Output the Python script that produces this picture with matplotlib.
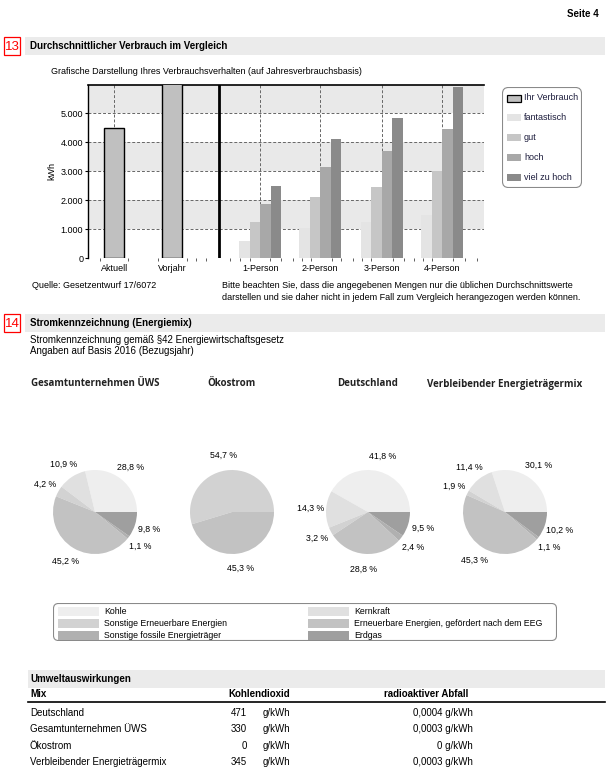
import matplotlib
matplotlib.use("Agg")
import matplotlib.pyplot as plt
from matplotlib.patches import Rectangle, FancyBboxPatch
from matplotlib.lines import Line2D
from matplotlib.ticker import FuncFormatter

plt.rcParams['font.family'] = ['Liberation Sans', 'DejaVu Sans']

# --- data: Verbrauchsvergleich (kWh) ---
own_labels = ["Aktuell", "Vorjahr"]
own_values = [4500, 6100]
groups = ["1-Person", "2-Person", "3-Person", "4-Person"]
levels = ["fantastisch", "gut", "hoch", "viel zu hoch"]
fantastisch = [600, 1030, 1250, 1500]
gut = [1250, 2100, 2450, 3000]
hoch = [1850, 3150, 3700, 4450]
viel_zu_hoch = [2500, 4100, 4850, 5900]

# --- data: Energiemix (%) ---
sources = ["Kohle", "Kernkraft", "Sonstige Erneuerbare Energien",
           "Erneuerbare Energien, gefördert nach dem EEG",
           "Sonstige fossile Energieträger", "Erdgas"]
mix_names = ["Gesamtunternehmen ÜWS", "Ökostrom", "Deutschland",
             "Verbleibender Energieträgermix"]
mix_uews = [28.8, 10.9, 4.2, 45.2, 1.1, 9.8]
mix_oeko = [0, 0, 54.7, 45.3, 0, 0]
mix_de = [41.8, 14.3, 3.2, 28.8, 2.4, 9.5]
mix_rest = [30.1, 11.4, 1.9, 45.3, 1.1, 10.2]

# --- data: Umweltauswirkungen ---
table_rows = ["Deutschland", "Gesamtunternehmen ÜWS", "Ökostrom",
              "Verbleibender Energieträgermix"]
co2 = [471, 330, 0, 345]
waste = ["0,0004", "0,0003", "0", "0,0003"]

level_colors = ["#e4e4e4", "#c6c6c6", "#a8a8a8", "#8a8a8a"]
own_color = "#c0c0c0"
src_colors = ["#eeeeee", "#e0e0e0", "#d2d2d2", "#c2c2c2", "#b0b0b0", "#9f9f9f"]
band = "#e9e9e9"

W, H = 615, 780
fig = plt.figure(figsize=(W / 100, H / 100), dpi=100)


def fx(x):
    return x / W


def fy(y):
    return 1 - y / H


def txt(x, y, s, size=6.5, **kw):
    kw.setdefault("va", "center")
    fig.text(fx(x), fy(y), s, fontsize=size, **kw)


def rect(x, y, w, h, **kw):
    fig.add_artist(Rectangle((fx(x), fy(y + h)), w / W, h / H,
                             transform=fig.transFigure, **kw))


def px_axes(x, y, w, h):
    return fig.add_axes([fx(x), fy(y + h), w / W, h / H])


def section(num, title, y):
    rect(25, y, 580, 18, color="#ebebeb", lw=0)
    rect(4, y, 16, 18, facecolor="white", edgecolor="red", lw=0.9)
    txt(12, y + 9.5, num, size=9.5, color="red", ha="center")
    txt(30, y + 9, title, size=7, weight="bold")


txt(599, 14, "Seite 4", size=7, weight="bold", ha="right")

# ---------------- section 13 ----------------
section("13", "Durchschnittlicher Verbrauch im Vergleich", 37)
txt(51, 72, "Grafische Darstellung Ihres Verbrauchsverhalten (auf Jahresverbrauchsbasis)")

ax = px_axes(88, 85, 396, 173)
own_x = [0, 0.96]
grp_x = [2.41, 3.40, 4.42, 5.42]
sep_x = 1.73
bw = 0.174

for k in (1, 3, 5):
    ax.axhspan(k * 1000, (k + 1) * 1000, color=band, lw=0, zorder=0)

ax.bar(own_x, own_values, width=0.33, color=own_color, edgecolor="black",
       lw=1, zorder=3)
for i, (vals, col) in enumerate(zip([fantastisch, gut, hoch, viel_zu_hoch],
                                    level_colors)):
    xs = [g + (i - 1.5) * bw for g in grp_x]
    ax.bar(xs, vals, width=bw, color=col, lw=0, zorder=3)

ax.axvline(sep_x, color="black", lw=2, zorder=4)
ax.set_xlim(-0.435, 6.11)
ax.set_ylim(0, 5980)
ax.set_xticks(own_x + grp_x)
ax.set_xticklabels(own_labels + groups)
minor = [-0.23, 0.23, 0.73, 1.2, 1.35, 1.52, 1.92, 2.08, 2.25,
         2.58, 2.75, 2.95, 3.1, 3.25, 3.6, 3.75, 3.95, 4.1, 4.25,
         4.6, 4.78, 4.95, 5.1, 5.25, 5.6, 5.8, 6.0]
ax.set_xticks(minor, minor=True)
ax.set_yticks(range(0, 6000, 1000))
ax.yaxis.set_major_formatter(FuncFormatter(
    lambda v, p: f"{int(v):,}".replace(",", ".")))
ax.tick_params(axis="x", which="major", length=0, pad=4.5, labelsize=6.5)
ax.tick_params(axis="x", which="minor", length=2.5, width=0.6, color="#444")
ax.tick_params(axis="y", length=2.5, width=0.8, pad=1, labelsize=6.5)
ax.set_axisbelow(True)
ax.grid(True, color="#666666", ls=(0, (3, 2)), lw=0.7)
for s in ("right", "bottom"):
    ax.spines[s].set_visible(False)
ax.spines["top"].set_linewidth(1.2)
ax.spines["left"].set_linewidth(1)
ax.set_facecolor("white")
ax.set_ylabel("kWh", fontsize=6.5, labelpad=3)

# bar legend
lg = px_axes(502, 87, 80, 101)
lg.set_xlim(0, 80)
lg.set_ylim(101, 0)
lg.axis("off")
lg.add_patch(FancyBboxPatch((0.5, 0.5), 79, 100, boxstyle="round,pad=0,rounding_size=6",
                            fc="white", ec="#8a8a8a", lw=0.8))
leg_entries = [("Ihr Verbrauch", own_color, "black")] + \
    [(n, c, "none") for n, c in zip(levels, level_colors)]
for i, (name, col, ec) in enumerate(leg_entries):
    yy = 11 + i * 19.8
    lg.add_patch(Rectangle((5, yy - 3.5), 14, 7, fc=col, ec=ec, lw=0.9))
    lg.text(22, yy, name, fontsize=6.5, va="center", color="#1c1c3c")

txt(32, 286, "Quelle: Gesetzentwurf 17/6072")
txt(222, 286, "Bitte beachten Sie, dass die angegebenen Mengen nur die üblichen Durchschnittswerte")
txt(222, 297, "darstellen und sie daher nicht in jedem Fall zum Vergleich herangezogen werden können.")

# ---------------- section 14 ----------------
section("14", "Stromkennzeichnung (Energiemix)", 314)
txt(30, 340, "Stromkennzeichnung gemäß §42 Energiewirtschaftsgesetz", size=7)
txt(30, 351, "Angaben auf Basis 2016 (Bezugsjahr)", size=7)

centers = [95, 232, 368, 505]
for cx, name, mix in zip(centers, mix_names, [mix_uews, mix_oeko, mix_de, mix_rest]):
    txt(cx, 384, name, size=7, weight="bold", ha="center",
        family=["Open Sans", "DejaVu Sans"], color="#222222")
    pa = px_axes(cx - 42, 470, 84, 84)
    vals = [v for v in mix if v > 0]
    cols = [c for v, c in zip(mix, src_colors) if v > 0]
    wedges, _ = pa.pie(vals, colors=cols, startangle=0, counterclock=True,
                       radius=1, wedgeprops=dict(lw=0))
    pa.set_xlim(-1, 1)
    pa.set_ylim(-1, 1)
    pa.set_aspect("equal")
    import numpy as np
    for w, v in zip(wedges, vals):
        ang = np.deg2rad((w.theta1 + w.theta2) / 2)
        pa.text(1.36 * np.cos(ang), 1.36 * np.sin(ang),
                f"{v:.1f} %".replace(".", ","), fontsize=6.3,
                ha="center", va="center", clip_on=False)

# pie legend
pl = px_axes(53, 603, 504, 38)
pl.set_xlim(0, 504)
pl.set_ylim(38, 0)
pl.axis("off")
pl.add_patch(FancyBboxPatch((0.5, 0.5), 503, 37, boxstyle="round,pad=0,rounding_size=5",
                            fc="white", ec="#8a8a8a", lw=0.8))
for i, (name, col) in enumerate(zip(sources, src_colors)):
    row, cc = divmod(i, 2)
    yy = 8 + row * 12
    x0 = 5 + cc * 250
    pl.add_patch(Rectangle((x0, yy - 4.5), 41, 9, fc=col, lw=0))
    pl.text(x0 + 46, yy, name, fontsize=6.3, va="center")

# ---------------- Umweltauswirkungen ----------------
rect(28, 670, 577, 18, color="#ebebeb", lw=0)
txt(30, 679, "Umweltauswirkungen", size=7, weight="bold")
txt(30, 694, "Mix", size=7, weight="bold")
txt(228, 694, "Kohlendioxid", size=7, weight="bold")
txt(384, 694, "radioaktiver Abfall", size=7, weight="bold")
fig.add_artist(Line2D([fx(28), fx(605)], [fy(702), fy(702)], color="black",
                      lw=1.2, transform=fig.transFigure))
for i, (name, c, wv) in enumerate(zip(table_rows, co2, waste)):
    yy = 713 + i * 16.3
    txt(30, yy, name, size=7)
    txt(247, yy, str(c), size=7, ha="right")
    txt(263, yy, "g/kWh", size=7)
    txt(473, yy, f"{wv} g/kWh", size=7, ha="right")

fig.savefig("out.png", dpi=100)
